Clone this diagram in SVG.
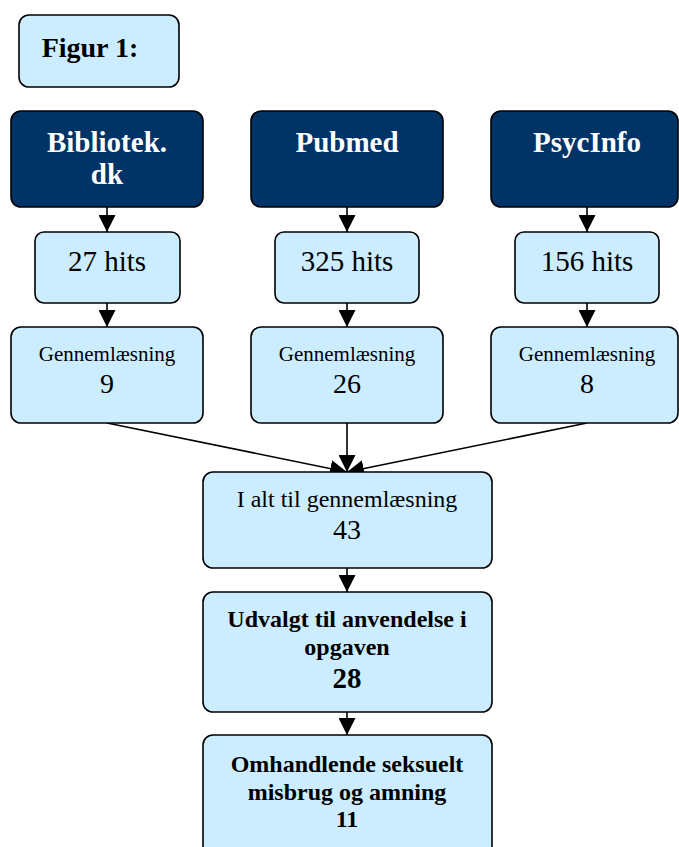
<svg xmlns="http://www.w3.org/2000/svg" width="679" height="847" viewBox="0 0 679 847" font-family="'Liberation Serif', 'DejaVu Serif', serif">
<defs>
<style>
.l{fill:#CCECFF;stroke:#000;stroke-width:1.6}
.d{fill:#003366;stroke:#000;stroke-width:1.6}
text{font-family:'Liberation Serif','DejaVu Serif',serif;text-anchor:middle;fill:#000}
.w{fill:#fff;font-weight:bold;font-size:29px}
.b{font-weight:bold}
.c{stroke:#000;stroke-width:1.6;fill:none}
</style>
<marker id="ah2" viewBox="0 0 10 10" refX="10" refY="5" markerWidth="17" markerHeight="17" markerUnits="userSpaceOnUse" orient="auto"><path d="M0,0 L10,5 L0,10 z" fill="#000"/></marker>
</defs>
<g id="connectors">
<line class="c" x1="107" y1="207" x2="107" y2="232" marker-end="url(#ah2)"/>
<line class="c" x1="347" y1="207" x2="347" y2="232" marker-end="url(#ah2)"/>
<line class="c" x1="587" y1="207" x2="587" y2="232" marker-end="url(#ah2)"/>
<line class="c" x1="107" y1="303" x2="107" y2="327" marker-end="url(#ah2)"/>
<line class="c" x1="347" y1="303" x2="347" y2="327" marker-end="url(#ah2)"/>
<line class="c" x1="587" y1="303" x2="587" y2="327" marker-end="url(#ah2)"/>
<line class="c" x1="107" y1="423" x2="347" y2="472" marker-end="url(#ah2)"/>
<line class="c" x1="347" y1="423" x2="347" y2="472" marker-end="url(#ah2)"/>
<line class="c" x1="587" y1="423" x2="347" y2="472" marker-end="url(#ah2)"/>
<line class="c" x1="347" y1="568" x2="347" y2="592" marker-end="url(#ah2)"/>
<line class="c" x1="347" y1="712" x2="347" y2="735" marker-end="url(#ah2)"/>
</g>
<g id="figur"><rect class="l" x="19" y="15" width="160" height="72" rx="10"/><text x="90" y="57" class="b" font-size="28">Figur 1:</text></g>
<g id="bibliotek"><rect class="d" x="11" y="111" width="192" height="96" rx="10"/><text x="107" y="152" class="w">Bibliotek.</text><text x="107" y="184" class="w">dk</text></g>
<g id="pubmed"><rect class="d" x="251" y="111" width="192" height="96" rx="10"/><text x="347" y="152" class="w">Pubmed</text></g>
<g id="psycinfo"><rect class="d" x="491" y="111" width="187" height="96" rx="10"/><text x="587" y="152" class="w">PsycInfo</text></g>
<g id="hits27"><rect class="l" x="35" y="232" width="145" height="71" rx="9"/><text x="107" y="271" font-size="29">27 hits</text></g>
<g id="hits325"><rect class="l" x="275" y="232" width="144" height="71" rx="9"/><text x="347" y="271" font-size="29">325 hits</text></g>
<g id="hits156"><rect class="l" x="515" y="232" width="144" height="71" rx="9"/><text x="587" y="271" font-size="29">156 hits</text></g>
<g id="gen9"><rect class="l" x="11" y="327" width="192" height="96" rx="10"/><text x="107" y="361" font-size="21">Gennemlæsning</text><text x="107" y="393" font-size="28">9</text></g>
<g id="gen26"><rect class="l" x="251" y="327" width="192" height="96" rx="10"/><text x="347" y="361" font-size="21">Gennemlæsning</text><text x="347" y="393" font-size="28">26</text></g>
<g id="gen8"><rect class="l" x="491" y="327" width="187" height="96" rx="10"/><text x="587" y="361" font-size="21">Gennemlæsning</text><text x="587" y="393" font-size="28">8</text></g>
<g id="ialt"><rect class="l" x="203" y="472" width="289" height="96" rx="10"/><text x="347" y="507" font-size="24">I alt til gennemlæsning</text><text x="347" y="539" font-size="28">43</text></g>
<g id="udvalgt"><rect class="l" x="203" y="592" width="289" height="120" rx="10"/><text x="347" y="627" class="b" font-size="24">Udvalgt til anvendelse i</text><text x="347" y="655" class="b" font-size="24">opgaven</text><text x="347" y="688" class="b" font-size="29">28</text></g>
<g id="omhandlende"><rect class="l" x="203" y="735" width="289" height="130" rx="10"/><text x="347" y="772" class="b" font-size="24">Omhandlende seksuelt</text><text x="347" y="800" class="b" font-size="24">misbrug og amning</text><text x="347" y="827" class="b" font-size="24">11</text></g>
</svg>
